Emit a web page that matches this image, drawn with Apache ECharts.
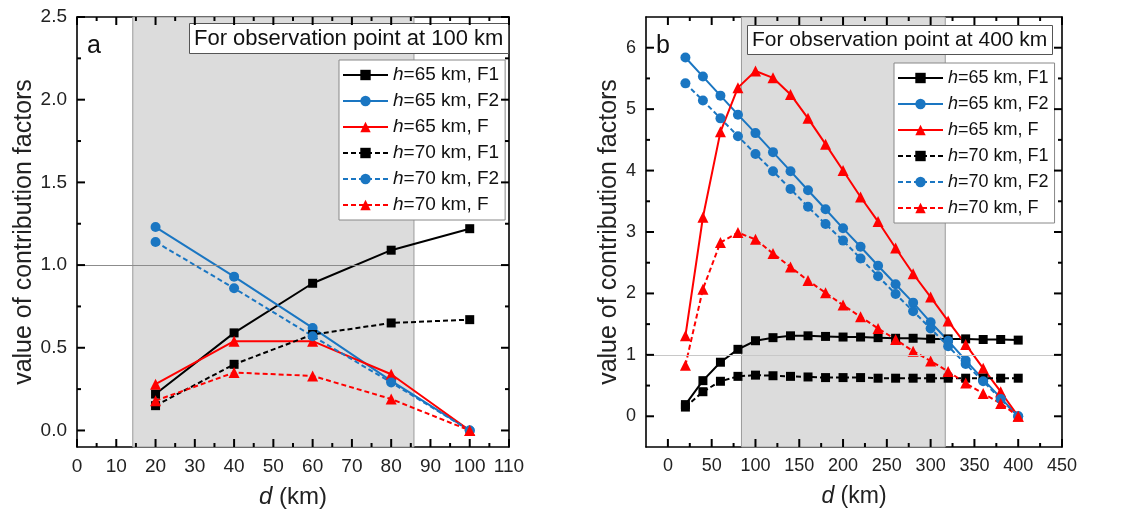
<!DOCTYPE html>
<html>
<head>
<meta charset="utf-8">
<script src="https://cdn.jsdelivr.net/npm/echarts@6/dist/echarts.min.js"></script>
<style>html,body{margin:0;padding:0;background:#fff;}#c{width:1142px;height:522px;}</style>
</head>
<body>
<div id="c"></div>
<script>
// ---------- data: panel a (observation point at 100 km) ----------
const dA = [20, 40, 60, 80, 100];
const a65F1 = [0.22, 0.59, 0.89, 1.09, 1.22];
const a65F2 = [1.23, 0.93, 0.62, 0.30, 0.00];
const a65F  = [0.28, 0.54, 0.54, 0.34, 0.00];
const a70F1 = [0.15, 0.40, 0.58, 0.65, 0.67];
const a70F2 = [1.14, 0.86, 0.57, 0.29, 0.00];
const a70F  = [0.18, 0.35, 0.33, 0.19, 0.00];
const shadeA = [14.2, 85.8];

// ---------- data: panel b (observation point at 400 km) ----------
const dB = [20, 40, 60, 80, 100, 120, 140, 160, 180, 200, 220, 240, 260, 280, 300, 320, 340, 360, 380, 400];
const b65F1 = [0.19, 0.58, 0.88, 1.09, 1.23, 1.28, 1.31, 1.31, 1.30, 1.29, 1.29, 1.28, 1.27, 1.27, 1.26, 1.26, 1.26, 1.25, 1.25, 1.24];
const b65F2 = [5.84, 5.53, 5.22, 4.91, 4.61, 4.30, 3.99, 3.68, 3.37, 3.06, 2.76, 2.45, 2.15, 1.85, 1.53, 1.23, 0.91, 0.60, 0.30, 0.00];
const b65F  = [1.31, 3.24, 4.63, 5.35, 5.62, 5.51, 5.24, 4.85, 4.43, 4.00, 3.57, 3.17, 2.74, 2.32, 1.94, 1.55, 1.17, 0.78, 0.40, 0.00];
const b70F1 = [0.15, 0.40, 0.57, 0.65, 0.67, 0.66, 0.65, 0.64, 0.63, 0.63, 0.63, 0.62, 0.62, 0.62, 0.62, 0.62, 0.62, 0.62, 0.62, 0.62];
const b70F2 = [5.42, 5.14, 4.85, 4.56, 4.27, 3.99, 3.70, 3.41, 3.13, 2.86, 2.57, 2.28, 1.99, 1.71, 1.43, 1.14, 0.85, 0.57, 0.28, 0.00];
const b70F  = [0.83, 2.07, 2.83, 2.99, 2.88, 2.65, 2.43, 2.21, 2.01, 1.81, 1.62, 1.43, 1.25, 1.06, 0.90, 0.73, 0.54, 0.37, 0.21, 0.00];
const shadeB = [84, 316.7];

// ---------- axis ranges and ticks ----------
const rangeA = { x: [0, 110], y: [-0.1, 2.5] };
const rangeB = { x: [-25, 450], y: [-0.5, 6.5] };
const xTicksA = [0, 10, 20, 30, 40, 50, 60, 70, 80, 90, 100, 110];
const xMinorA = [5, 15, 25, 35, 45, 55, 65, 75, 85, 95, 105];
const yTicksA = [0.0, 0.5, 1.0, 1.5, 2.0, 2.5];
const yMinorA = [0.25, 0.75, 1.25, 1.75, 2.25];
const xTicksB = [0, 50, 100, 150, 200, 250, 300, 350, 400, 450];
const xMinorB = [25, 75, 125, 175, 225, 275, 325, 375, 425];
const yTicksB = [0, 1, 2, 3, 4, 5, 6];
const yMinorB = [0.5, 1.5, 2.5, 3.5, 4.5, 5.5];

const names = ['h=65 km, F1', 'h=65 km, F2', 'h=65 km, F', 'h=70 km, F1', 'h=70 km, F2', 'h=70 km, F'];
const FONT = 'Liberation Sans, Arial, sans-serif';
const BLUE = '#1a76c2', RED = '#ff0000', BLACK = '#000000';

function axes(dim, grid, range, majors, fmt, name, nameGap, nameSize, labelSize) {
  const mainPos = dim === 'x' ? 'bottom' : 'left';
  const mirPos = dim === 'x' ? 'top' : 'right';
  const base = { type: 'value', gridIndex: grid, min: range[0], max: range[1], splitLine: { show: false }, axisTick: { show: false } };
  const line = { show: true, onZero: false, lineStyle: { color: '#000', width: 1.6 } };
  return [
    Object.assign({}, base, {
      position: mainPos, axisLine: line,
      axisLabel: { show: true, customValues: majors, formatter: fmt, fontSize: labelSize, color: '#222', fontFamily: FONT, margin: 10 },
      name: name, nameLocation: 'middle', nameGap: nameGap,
      nameTextStyle: { fontSize: nameSize, color: '#222', fontFamily: FONT, rich: { i: { fontStyle: 'italic', fontSize: nameSize, fontFamily: FONT, color: '#222' } } }
    }),
    Object.assign({}, base, { position: mirPos, axisLine: line, axisLabel: { show: false } })
  ];
}

const xAxes = [].concat(
  axes('x', 0, rangeA.x, xTicksA, v => String(v), '{i|d} (km)', 38, 24, 19),
  axes('x', 1, rangeB.x, xTicksB, v => String(v), '{i|d} (km)', 38, 23, 18)
);
const yAxes = [].concat(
  axes('y', 0, rangeA.y, yTicksA, v => v.toFixed(1), 'value of contribution factors', 39, 25, 19),
  axes('y', 1, rangeB.y, yTicksB, v => String(v), 'value of contribution factors', 23, 25, 18)
);

function mkSeries(name, xs, ys, color, dashed, symbol, size, xi, yi, extra) {
  const s = {
    type: 'line', name: name, xAxisIndex: xi, yAxisIndex: yi,
    data: xs.map((x, i) => [x, ys[i]]),
    symbol: symbol, symbolSize: size, showSymbol: true,
    lineStyle: { color: color, width: 2, type: dashed ? [5, 3] : 'solid' },
    itemStyle: { color: color },
    emphasis: { disabled: true }, animation: false, z: 3
  };
  return Object.assign(s, extra || {});
}

function panelSeries(xs, sets, xi, yi, shade, lineColor) {
  const styles = [
    [BLACK, false, 'rect', 9], [BLUE, false, 'circle', 10], [RED, false, 'triangle', 11],
    [BLACK, true, 'rect', 9], [BLUE, true, 'circle', 10], [RED, true, 'triangle', 11]
  ];
  return sets.map((ys, k) => {
    const st = styles[k];
    let extra = null;
    if (k === 0) {
      extra = {
        markArea: { silent: true, itemStyle: { color: '#dcdcdc', borderColor: '#9a9a9a', borderWidth: 1 },
          data: [[{ xAxis: shade[0] }, { xAxis: shade[1] }]] },
        markLine: { silent: true, symbol: 'none', label: { show: false },
          lineStyle: { color: lineColor, width: 1, type: 'solid' }, data: [{ yAxis: 1 }] }
      };
    }
    return mkSeries(names[k], xs, ys, st[0], st[1], st[2], st[3], xi, yi, extra);
  });
}

// inward tick marks on all four sides: thin rect symbols placed through the axes' scales
function tickMarks(range, xMaj, xMin, yMaj, yMin, xi, yi, color, w, majLen, minLen) {
  const out = [];
  const mk = (pts, size, offset) => ({
    type: 'scatter', xAxisIndex: xi, yAxisIndex: yi, silent: true, clip: false, z: 10, animation: false,
    symbol: 'rect', symbolSize: size, symbolOffset: offset,
    itemStyle: { color: color, opacity: 1 }, data: pts
  });
  [[xMaj, majLen], [xMin, minLen]].forEach(([vals, len]) => {
    out.push(mk(vals.map(v => [v, range.y[0]]), [w, len], [0, -len / 2]));
    out.push(mk(vals.map(v => [v, range.y[1]]), [w, len], [0, len / 2]));
  });
  [[yMaj, majLen], [yMin, minLen]].forEach(([vals, len]) => {
    out.push(mk(vals.map(v => [range.x[0], v]), [len, w], [len / 2, 0]));
    out.push(mk(vals.map(v => [range.x[1], v]), [len, w], [-len / 2, 0]));
  });
  return out;
}

const series = [].concat(
  panelSeries(dA, [a65F1, a65F2, a65F, a70F1, a70F2, a70F], 0, 0, shadeA, '#8c8c8c'),
  panelSeries(dB, [b65F1, b65F2, b65F, b70F1, b70F2, b70F], 2, 2, shadeB, '#c8c8c8'),
  tickMarks(rangeA, xTicksA, xMinorA, yTicksA, yMinorA, 0, 0, '#000', 2, 8, 4),
  tickMarks(rangeB, xTicksB, xMinorB, yTicksB, yMinorB, 2, 2, '#000', 2, 8, 4)
);

function legendAt(left, top, fs) {
  return {
    orient: 'vertical', left: left, top: top, data: names,
    itemWidth: 45, itemHeight: 13, itemGap: 6,
    padding: [5, 6, 5, 3], borderColor: '#888', borderWidth: 1, backgroundColor: '#fff',
    selectedMode: false,
    formatter: n => '{i|h}' + n.slice(1),
    textStyle: { fontSize: fs, color: '#111', fontFamily: FONT, lineHeight: 20,
      rich: { i: { fontStyle: 'italic', fontSize: fs, fontFamily: FONT, color: '#111', lineHeight: 20 } } }
  };
}

function box(text, left, top, fs) {
  return { text: text, left: left, top: top, padding: [5, 5, 4, 5], borderColor: '#555', borderWidth: 1, backgroundColor: '#fff',
    textStyle: { fontSize: fs, fontWeight: 'normal', color: '#111', fontFamily: FONT } };
}
function letter(text, left, top) {
  return { text: text, left: left, top: top, padding: 0,
    textStyle: { fontSize: 25, fontWeight: 'normal', color: '#111', fontFamily: FONT } };
}

const chart = echarts.init(document.getElementById('c'), null, { renderer: 'canvas' });
chart.setOption({
  backgroundColor: '#fff',
  animation: false,
  grid: [
    { left: 77, top: 17, width: 432, height: 430 },
    { left: 646, top: 17, width: 416, height: 430 }
  ],
  title: [
    box('For observation point at 100 km', 189, 23, 22),
    box('For observation point at 400 km', 747, 25, 21),
    letter('a', 87, 34),
    letter('b', 656, 34)
  ],
  legend: [legendAt(339, 60, 19), legendAt(894, 63, 18)],
  xAxis: xAxes,
  yAxis: yAxes,
  series: series
});
</script>
</body>
</html>
